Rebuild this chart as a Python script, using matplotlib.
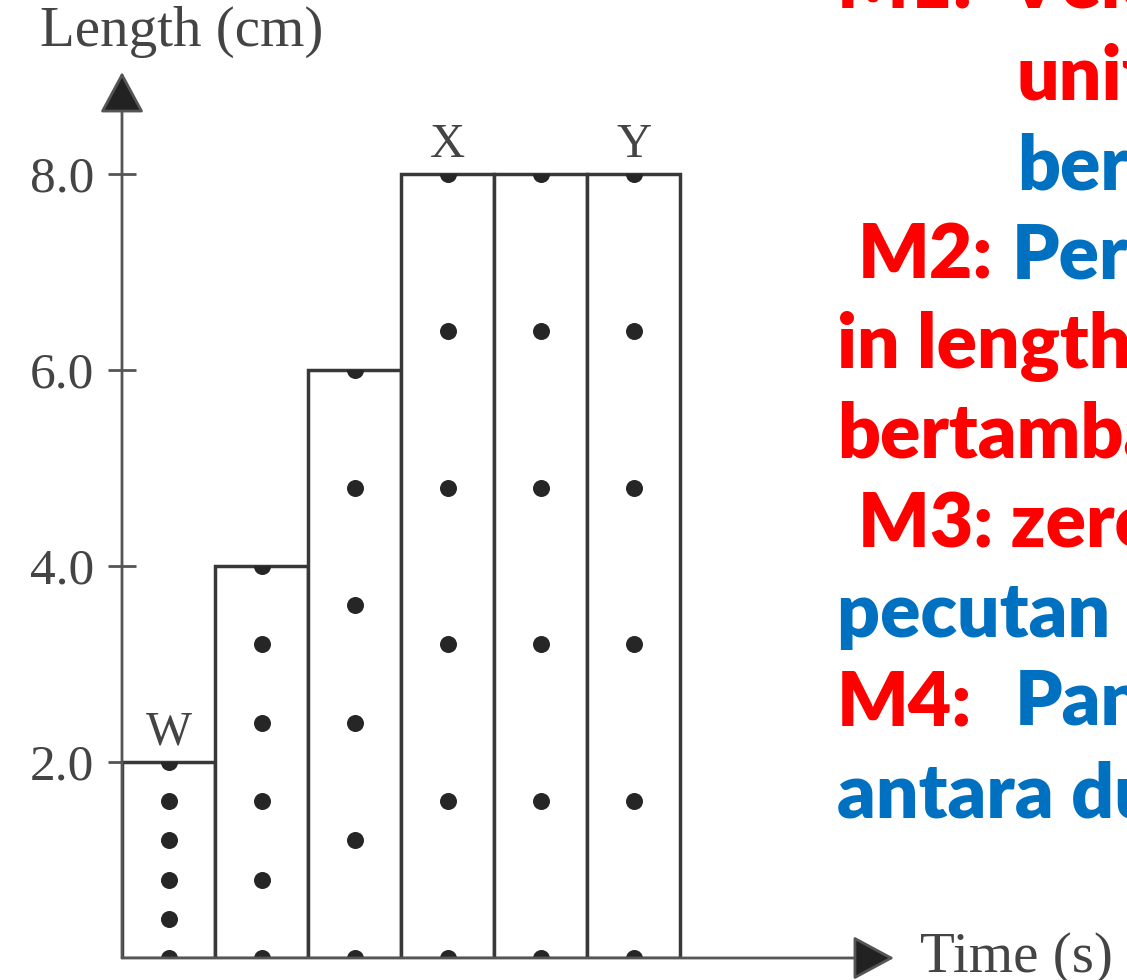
import matplotlib
matplotlib.use("Agg")
import matplotlib.pyplot as plt
from matplotlib.patches import FancyArrowPatch

# ticker-tape strips: length of each strip (cm)
strips = ["W", "", "", "X", "", "Y"]
lengths = [2.0, 4.0, 6.0, 8.0, 8.0, 8.0]
dots = [
    [0.0, 0.4, 0.8, 1.2, 1.6, 2.0],
    [0.0, 0.8, 1.6, 2.4, 3.2, 4.0],
    [0.0, 1.2, 2.4, 3.6, 4.8, 6.0],
    [0.0, 1.6, 3.2, 4.8, 6.4, 8.0],
    [0.0, 1.6, 3.2, 4.8, 6.4, 8.0],
    [0.0, 1.6, 3.2, 4.8, 6.4, 8.0],
]
yticks = [2.0, 4.0, 6.0, 8.0]

W, H = 1127, 980
fig = plt.figure(figsize=(W / 100, H / 100), dpi=100)
ax = fig.add_axes([122 / W, 22 / H, 772 / W, 886 / H])
ax.set_xlim(0, 8.3)
ax.set_ylim(0, 9.04)
for s in ax.spines.values():
    s.set_visible(False)

serif = ["Liberation Serif", "DejaVu Serif"]
axis_col = "#555555"
line_col = "#383838"

xs = [i + 0.5 for i in range(len(lengths))]
bars = ax.bar(xs, lengths, width=1.0, facecolor="white", edgecolor=line_col,
              linewidth=2.5, zorder=2)

for i, patch in enumerate(bars.patches):
    sc = ax.scatter([xs[i]] * len(dots[i]), dots[i], s=150, color="#262626",
                    zorder=3, linewidths=0)
    sc.set_clip_path(patch)
    if strips[i]:
        ax.text(xs[i], lengths[i] + 0.3, strips[i], ha="center", va="center",
                fontsize=35, family=serif, color="#444444")

# axes with arrow heads
for tip in [(0, 9.04), (8.3, 0)]:
    ar = FancyArrowPatch((0, 0), tip, arrowstyle="-|>,head_length=1.3,head_width=0.7",
                         mutation_scale=20, color=axis_col, lw=2, shrinkA=0, shrinkB=0,
                         clip_on=False, zorder=4)
    ar.set_facecolor("#222222")
    ax.add_patch(ar)

ax.set_xticks([])
ax.set_yticks(yticks)
ax.set_yticklabels([f"{v:.1f}" for v in yticks], family=serif, fontsize=37, color="#444444")
ax.tick_params(axis="y", direction="inout", length=20, width=2, color=axis_col, pad=10)

fig.text(40 / W, 1 - 46 / H, "Length (cm)", family=serif, fontsize=41,
         color="#444444", va="baseline", ha="left")
fig.text(920 / W, 1 - 972 / H, "Time (s)", family=serif, fontsize=41,
         color="#444444", va="baseline", ha="left")

# overlaid annotation text (cut off at the right edge, as in the source)
red = "#ff0000"
blue = "#0070c0"
note = [
    (837, 8, "M1:  Velocity increases", red),
    (1017, 100, "uniformly", red),
    (1017, 190, "bertambah", blue),
    (858, 278, "M2:", red),
    (1012, 278, "Perubahan", blue),
    (837, 368, "in length", red),
    (837, 457, "bertambah", red),
    (858, 547, "M3: zero", red),
    (837, 637, "pecutan sifar", blue),
    (837, 725, "M4:", red),
    (1015, 725, "Panjang", blue),
    (837, 817, "antara dua titik", blue),
]
for x, y, t, c in note:
    fig.text(x / W, 1 - y / H, t, fontsize=54, color=c, family=["Lato", "DejaVu Sans"],
             fontweight="heavy", ha="left", va="baseline")

fig.savefig("out.png", dpi=100)
